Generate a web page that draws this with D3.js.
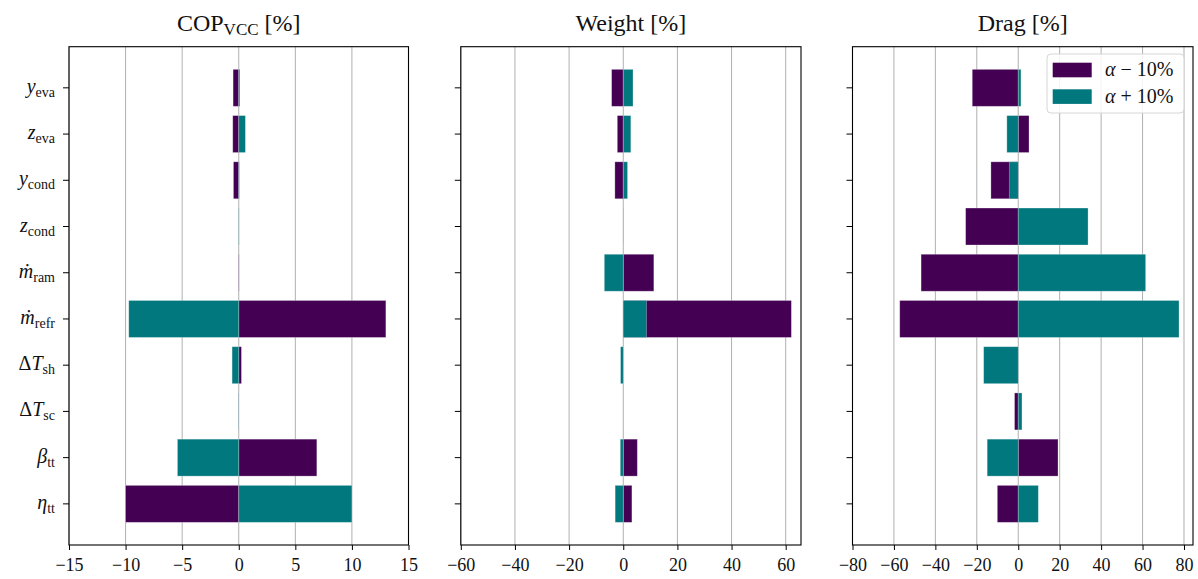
<!DOCTYPE html>
<html>
<head>
<meta charset="utf-8">
<script src="https://cdn.jsdelivr.net/npm/d3@7"></script>
<style>
  html, body { margin: 0; padding: 0; background: #fff; }
  svg { display: block; font-family: "Liberation Serif", "DejaVu Serif", serif; }
</style>
</head>
<body>
<svg id="chart" width="1198" height="579"></svg>
<script>
// Design parameters varied in the sensitivity study (top to bottom)
const paramSymbols    = ["y", "z", "y", "z", "ṁ", "ṁ", "ΔT", "ΔT", "β", "η"];
const paramSubscripts = ["eva", "eva", "cond", "cond", "ram", "refr", "sh", "sc", "tt", "tt"];
const paramKeys = paramSymbols.map((s, i) => s + "_" + paramSubscripts[i]);

// Relative change of each output [%] for α − 10% and α + 10%
const copMinus    = [-0.5, -0.53, -0.47, 0.0, 0.03, 13.0, 0.24, 0.02, 6.9, -10.0];
const copPlus     = [0.1, 0.59, 0.05, 0.03, 0.0, -9.72, -0.59, 0.02, -5.42, 10.0];
const weightMinus = [-4.3, -2.2, -3.1, 0.0, 11.3, 62.1, 0.0, 0.0, 5.2, 3.2];
const weightPlus  = [3.6, 2.8, 1.6, 0.1, -7.0, 8.6, -1.0, 0.0, -1.1, -3.0];
const dragMinus   = [-22.2, 5.2, -13.2, -25.4, -46.9, -57.2, 0.0, -1.8, 19.2, -10.1];
const dragPlus    = [1.3, -5.5, -4.3, 33.7, 61.5, 77.6, -16.7, 1.8, -15.0, 9.7];

// Axis ticks
const copTicks    = [-15, -10, -5, 0, 5, 10, 15];
const weightTicks = [-60, -40, -20, 0, 20, 40, 60];
const dragTicks   = [-80, -60, -40, -20, 0, 20, 40, 60, 80];

const seriesNames  = ["− 10%", "+ 10%"];
const seriesColors = ["#440154", "#00787e"];

const svg = d3.select("#chart");
const plotTop = 46.7, plotBottom = 545;

const panels = [
  { title: ["COP", "VCC", " [%]"], domain: [-15, 15], ticks: copTicks,
    left: 69, right: 408.5, minus: copMinus, plus: copPlus, showLabels: true },
  { title: ["Weight [%]"], domain: [-60, 65.65], ticks: weightTicks,
    left: 460.8, right: 801, minus: weightMinus, plus: weightPlus, showLabels: false },
  { title: ["Drag [%]"], domain: [-80, 84.35], ticks: dragTicks,
    left: 852.5, right: 1193, minus: dragMinus, plus: dragPlus, showLabels: false, legend: true }
];

const y = d3.scaleBand().domain(paramKeys).range([plotTop, plotBottom])
  .paddingInner(0.2).paddingOuter(0.49);

const fmt = d3.format("");

panels.forEach(p => {
  const x = d3.scaleLinear().domain(p.domain).range([p.left, p.right]);
  const g = svg.append("g");

  // vertical grid
  g.append("g").selectAll("line").data(p.ticks).join("line")
    .attr("x1", d => x(d)).attr("x2", d => x(d))
    .attr("y1", plotTop).attr("y2", plotBottom)
    .attr("stroke", "#b0b0b0").attr("stroke-width", 1);

  // bars: α − 10% first, α + 10% drawn over it
  [p.minus, p.plus].forEach((vals, si) => {
    g.append("g").selectAll("rect").data(vals).join("rect")
      .attr("x", d => Math.min(x(0), x(d)))
      .attr("width", d => Math.abs(x(d) - x(0)))
      .attr("y", (d, i) => y(paramKeys[i]))
      .attr("height", y.bandwidth())
      .attr("fill", seriesColors[si])
      .attr("stroke", d => d === 0 ? "none" : "#ffffff")
      .attr("stroke-opacity", 0.35)
      .attr("stroke-width", 0.8);
  });

  // x axis
  const xa = g.append("g").attr("transform", `translate(0,${plotBottom})`)
    .call(d3.axisBottom(x).tickValues(p.ticks).tickSize(5).tickPadding(5).tickFormat(fmt));
  xa.select(".domain").remove();
  xa.selectAll("line").attr("stroke", "#000").attr("stroke-width", 1);
  xa.selectAll("text").attr("font-family", "Liberation Serif, serif")
    .attr("font-size", 18).attr("fill", "#111").attr("dy", "0.9em");

  // y axis
  const ya = g.append("g").attr("transform", `translate(${p.left},0)`)
    .call(d3.axisLeft(y).tickSize(6).tickFormat(""));
  ya.select(".domain").remove();
  ya.selectAll("line").attr("stroke", "#000").attr("stroke-width", 1);

  if (p.showLabels) {
    paramKeys.forEach((k, i) => {
      const t = g.append("text")
        .attr("x", p.left - 14).attr("y", y(k) + y.bandwidth() / 2 + 5)
        .attr("text-anchor", "end").attr("fill", "#111").attr("font-size", 20);
      const sym = paramSymbols[i];
      if (sym.startsWith("Δ")) {
        t.append("tspan").text("Δ");
        t.append("tspan").attr("font-style", "italic").text(sym.slice(1));
      } else {
        t.append("tspan").attr("font-style", "italic").text(sym);
      }
      t.append("tspan").attr("font-size", 14).attr("dy", 4).text(paramSubscripts[i]);
    });
  }

  // frame
  g.append("rect").attr("x", p.left).attr("y", plotTop)
    .attr("width", p.right - p.left).attr("height", plotBottom - plotTop)
    .attr("fill", "none").attr("stroke", "#000").attr("stroke-width", 1.1);

  // title
  const cx = (p.left + p.right) / 2;
  const tt = g.append("text").attr("x", cx).attr("y", 31)
    .attr("text-anchor", "middle").attr("font-size", 24).attr("fill", "#111");
  if (p.title.length === 3) {
    tt.append("tspan").text(p.title[0]);
    tt.append("tspan").attr("font-size", 17).attr("dy", 4).text(p.title[1]);
    tt.append("tspan").attr("dy", -4).text(p.title[2]);
  } else {
    tt.text(p.title[0]);
  }

  if (p.legend) {
    const lg = g.append("g");
    lg.append("rect").attr("x", 1047).attr("y", 54).attr("width", 137).attr("height", 59)
      .attr("rx", 4).attr("fill", "#fff").attr("fill-opacity", 0.85)
      .attr("stroke", "#d6d6d6").attr("stroke-width", 1);
    seriesNames.forEach((name, i) => {
      const yy = 62.7 + i * 26.6;
      lg.append("rect").attr("x", 1052.7).attr("y", yy).attr("width", 39).attr("height", 14.6)
        .attr("fill", seriesColors[i]);
      const lt = lg.append("text").attr("x", 1105).attr("y", yy + 13.5)
        .attr("font-size", 20).attr("fill", "#111");
      lt.append("tspan").attr("font-style", "italic").text("α");
      lt.append("tspan").text(" " + name);
    });
  }
});
</script>
</body>
</html>
